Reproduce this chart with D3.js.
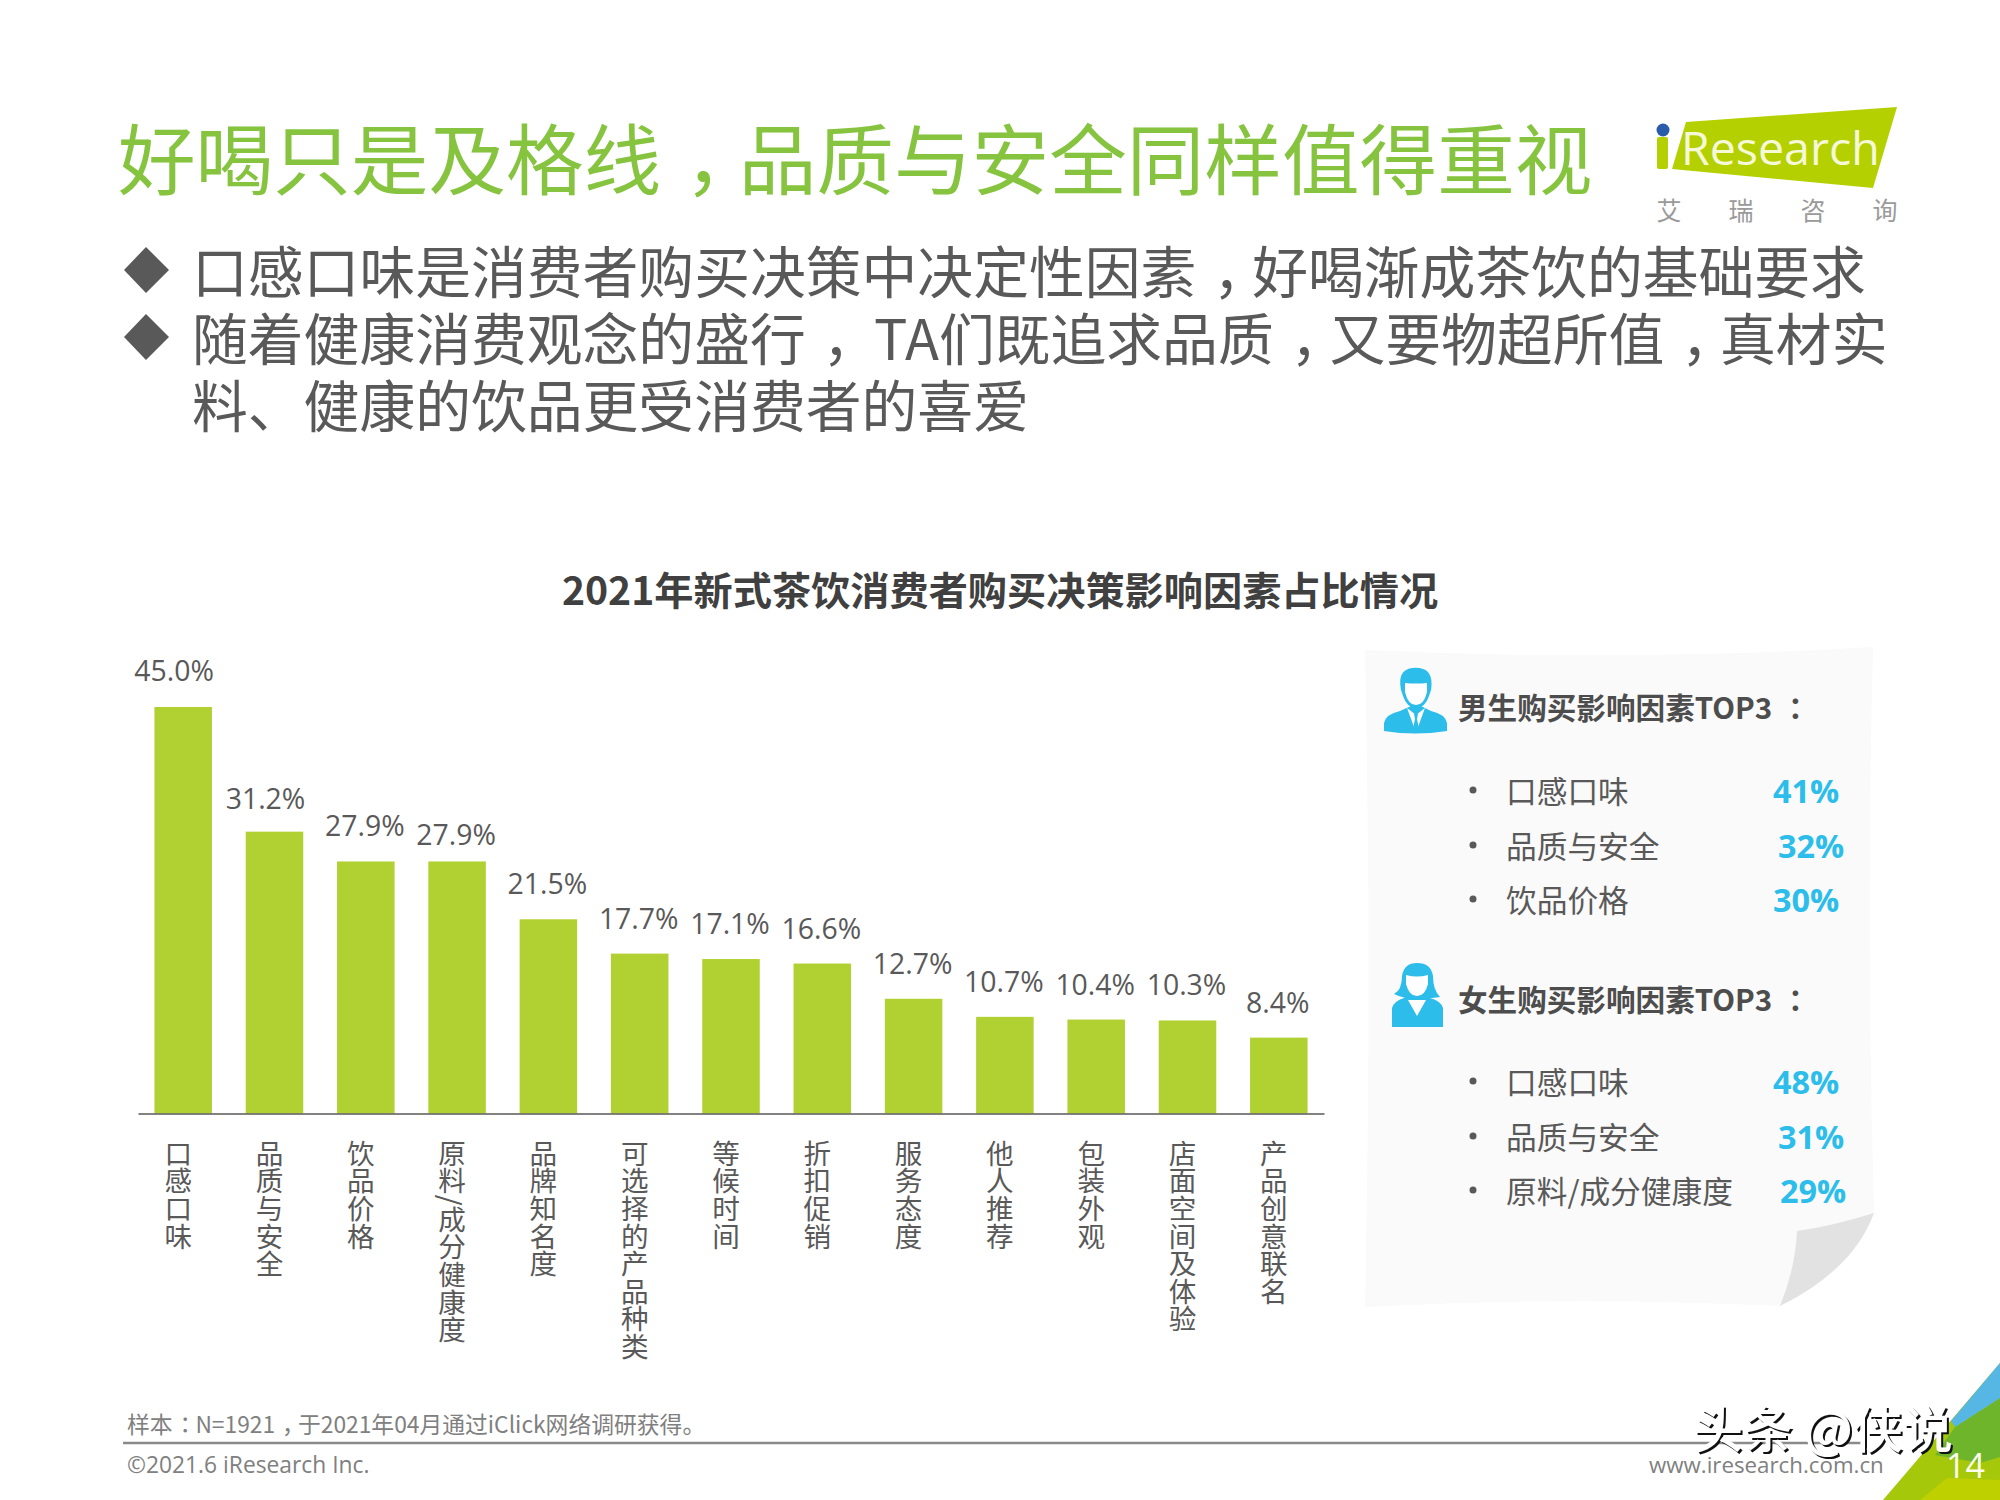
<!DOCTYPE html>
<html>
<head>
<meta charset="utf-8">
<script src="https://cdn.jsdelivr.net/npm/d3@7/dist/d3.min.js"></script>
<style>
html, body { margin: 0; padding: 0; background: #fff; }
svg { display: block; }
text { font-family: "Open Sans", "Noto Sans CJK SC", sans-serif; }
.cjk { font-family: "Noto Sans CJK SC", "Open Sans", sans-serif; }
</style>
</head>
<body>
<div id="slide"></div>
<script>
var TITLE = '好喝只是及格线，品质与安全同样值得重视';
var BULLET_LINES = [
    '口感口味是消费者购买决策中决定性因素，好喝渐成茶饮的基础要求',
    '随着健康消费观念的盛行， TA们既追求品质，又要物超所值，真材实',
    '料、健康的饮品更受消费者的喜爱'
];
var CHART_TITLE = '2021年新式茶饮消费者购买决策影响因素占比情况';
var CATEGORY = ['口感口味', '品质与安全', '饮品价格', '原料/成分健康度', '品牌知名度', '可选择的产品种类', '等候时间', '折扣促销', '服务态度', '他人推荐', '包装外观', '店面空间及体验', '产品创意联名'];
var SHARE = [45.0, 31.2, 27.9, 27.9, 21.5, 17.7, 17.1, 16.6, 12.7, 10.7, 10.4, 10.3, 8.4];
var MALE_FACTORS = ['口感口味', '品质与安全', '饮品价格'];
var MALE_SHARE = [41, 32, 30];
var FEMALE_FACTORS = ['口感口味', '品质与安全', '原料/成分健康度'];
var FEMALE_SHARE = [48, 31, 29];
var SOURCE_NOTE = '样本：N=1921，于2021年04月通过iClick网络调研获得。';

var GREEN = '#b1d132';
var TEXT_DARK = '#595959';
var BLUE = '#2cbdea';

var svg = d3.select('#slide').append('svg')
    .attr('width', 2000)
    .attr('height', 1500);

function addText(str, x, y, size, fill, weight, cls) {
    var t = svg.append('text')
        .attr('class', cls || 'cjk')
        .attr('x', x)
        .attr('y', y)
        .attr('dominant-baseline', 'central')
        .attr('font-size', size)
        .attr('font-weight', weight || 400)
        .attr('fill', fill);
    // the original's full-width comma and colon sit in the middle of the cell
    var after = false;
    str.split(/([，：])/).forEach(function (part) {
        if (part === '') return;
        var punct = part === '，' || part === '：';
        var lift = part === '：' ? '-0.04em' : '0em';
        var span = t.append('tspan').text(part);
        if (punct) {
            span.attr('dx', '0.3em').attr('dy', lift);
            after = lift;
        } else if (after) {
            span.attr('dx', '-0.3em').attr('dy', after === '-0.04em' ? '0.04em' : '0em');
            after = false;
        }
    });
    return t;
}

function drawHeader() {
    addText(TITLE, 118, 155, 77.6, '#86c440', 400);

    // logo
    svg.append('polygon')
        .attr('points', '1686,122 1897,107 1873,188 1672,169')
        .attr('fill', '#b5d000');
    svg.append('rect').attr('x', 1657).attr('y', 137).attr('width', 11).attr('height', 32).attr('rx', 2).attr('fill', '#b5d000');
    svg.append('circle').attr('cx', 1663).attr('cy', 130).attr('r', 6.5).attr('fill', '#2a5caa');
    svg.append('text')
        .attr('x', 1681).attr('y', 165)
        .attr('font-size', 46.5)
        .attr('fill', '#f6f9d8')
        .text('Research');
    var logoChars = ['艾', '瑞', '咨', '询'];
    svg.selectAll('.logo-char')
        .data(logoChars)
        .enter()
        .append('text')
        .attr('class', 'cjk logo-char')
        .attr('x', (d, i) => 1669 + i * 72)
        .attr('y', 209)
        .attr('text-anchor', 'middle')
        .attr('dominant-baseline', 'central')
        .attr('font-size', 25)
        .attr('fill', '#9a9a9a')
        .text(d => d);

    // bullets
    var lineY = [268, 335, 402];
    BULLET_LINES.forEach(function (line, i) {
        addText(line, 192, lineY[i], 55.8, TEXT_DARK, 400);
    });
    [270, 337].forEach(function (cy) {
        svg.append('polygon')
            .attr('points', [[124, cy], [146, cy - 23], [169, cy], [146, cy + 23]].join(' '))
            .attr('fill', TEXT_DARK);
    });
}

function drawBarChart() {
    addText(CHART_TITLE, 1000, 588, 39.2, '#404040', 700, 'cjk').attr('text-anchor', 'middle');

    var x = d3.scaleBand()
        .domain(CATEGORY)
        .range([138, 1324])
        .paddingInner(0.37)
        .paddingOuter(0.18);
    var y = d3.scaleLinear()
        .domain([0, 45])
        .range([1113.5, 707]);

    svg.selectAll('.bar')
        .data(CATEGORY)
        .enter()
        .append('rect')
        .attr('class', 'bar')
        .attr('x', d => x(d))
        .attr('y', (d, i) => y(SHARE[i]))
        .attr('width', x.bandwidth())
        .attr('height', (d, i) => y(0) - y(SHARE[i]))
        .attr('fill', GREEN);

    var axis = svg.append('g')
        .attr('transform', 'translate(0,' + y(0) + ')')
        .call(d3.axisBottom(x).tickSize(0).tickSizeOuter(0));
    axis.select('.domain').attr('stroke', '#595959').attr('stroke-width', 1.5);
    axis.selectAll('text')
        .attr('class', 'cjk')
        .attr('x', -5)
        .attr('y', 26)
        .attr('dy', 0)
        .attr('font-size', 27.6)
        .attr('fill', TEXT_DARK)
        .attr('text-anchor', 'start')
        .style('writing-mode', 'vertical-rl');

    // a few labels sit off-centre in the original
    var nudge = { 0: [-8, -1], 1: [-8, 2], 3: [0, 9] };
    svg.selectAll('.value')
        .data(SHARE)
        .enter()
        .append('text')
        .attr('class', 'value')
        .attr('x', (d, i) => x(CATEGORY[i]) + x.bandwidth() / 2 - 1 + (nudge[i] ? nudge[i][0] : 0))
        .attr('y', (d, i) => y(d) - 36 + (nudge[i] ? nudge[i][1] : 0))
        .attr('text-anchor', 'middle')
        .attr('dominant-baseline', 'central')
        .attr('font-size', 28.4)
        .attr('fill', TEXT_DARK)
        .text(d => d.toFixed(1) + '%');
}

function drawTopList(head, names, values, headY, rowY, pctX) {
    addText(head, 1458, headY, 29.6, '#4d4d4d', 700);
    names.forEach(function (name, i) {
        svg.append('circle').attr('cx', 1473).attr('cy', rowY[i]).attr('r', 3.5).attr('fill', TEXT_DARK);
        addText(name, 1506, rowY[i] - 1, 30.7, TEXT_DARK, 400);
        svg.append('text')
            .attr('x', pctX[i])
            .attr('y', rowY[i])
            .attr('dominant-baseline', 'central')
            .attr('font-size', 32.4)
            .attr('font-weight', 700)
            .attr('fill', BLUE)
            .text(values[i] + '%');
    });
}

function drawPanel() {
    svg.append('path')
        .attr('d', 'M1365,650 Q1620,662 1873,647 Q1866,930 1874,1213 Q1853,1270 1780,1306 Q1570,1296 1365,1307 Q1372,980 1365,650 Z')
        .attr('fill', '#fafafa');
    svg.append('path')
        .attr('d', 'M1874,1213 Q1853,1270 1780,1306 Q1795,1270 1797,1231 Q1833,1226 1874,1213 Z')
        .attr('fill', '#e2e2e2');

    // male icon
    svg.append('path')
        .attr('d', 'M1384,731 L1384,723 Q1386,714 1400,711 L1411,706 L1421,706 L1431,711 Q1445,714 1447,723 L1447,731 Q1415,736 1384,731 Z')
        .attr('fill', BLUE);
    svg.append('path').attr('d', 'M1407,708 L1416,715 L1425,708 L1418,727 L1414,727 Z').attr('fill', '#fff');
    svg.append('path').attr('d', 'M1414,714 L1418,714 L1417,719 L1419,729 L1413,729 L1415,719 Z').attr('fill', BLUE);
    svg.append('path')
        .attr('d', 'M1401,690 Q1397,670 1412,668 Q1435,666 1431,690 L1429,696 Q1425,708 1416,708 Q1407,708 1403,696 Z')
        .attr('fill', BLUE);
    svg.append('path')
        .attr('d', 'M1405,683 Q1416,684 1427,683 L1427,692 Q1424,705 1416,705 Q1408,705 1405,692 Z')
        .attr('fill', '#fff');

    // female icon
    svg.append('path')
        .attr('d', 'M1392,1027 L1392,1008 Q1394,1001 1404,998 L1410,994 L1424,994 L1430,998 Q1441,1001 1443,1008 L1443,1027 Z')
        .attr('fill', BLUE);
    svg.append('path')
        .attr('d', 'M1394,994 Q1402,990 1402,976 Q1404,963 1417,963 Q1431,963 1433,976 Q1433,990 1440,997 Q1428,999 1417,999 Q1404,999 1394,994 Z')
        .attr('fill', BLUE);
    svg.append('path').attr('d', 'M1406,975 Q1417,978 1428,975 L1428,984 Q1425,996 1417,996 Q1409,996 1406,984 Z').attr('fill', '#fff');
    svg.append('path').attr('d', 'M1408,1000 L1426,1000 L1417,1016 Z').attr('fill', '#fff');

    drawTopList('男生购买影响因素TOP3 ：', MALE_FACTORS, MALE_SHARE, 706, [790, 845, 899], [1773, 1778, 1773]);
    drawTopList('女生购买影响因素TOP3 ：', FEMALE_FACTORS, FEMALE_SHARE, 998, [1081, 1136, 1190], [1773, 1778, 1780]);
}

function drawFooter() {
    addText(SOURCE_NOTE, 127, 1423, 22.8, '#808080', 400);
    svg.append('line')
        .attr('x1', 123).attr('x2', 1866)
        .attr('y1', 1443).attr('y2', 1443)
        .attr('stroke', '#8a8a8a')
        .attr('stroke-width', 2.5);
    svg.append('text')
        .attr('x', 127).attr('y', 1464)
        .attr('dominant-baseline', 'central')
        .attr('font-size', 22.8)
        .attr('fill', '#808080')
        .text('©2021.6 iResearch Inc.');
    svg.append('text')
        .attr('x', 1649).attr('y', 1473)
        .attr('font-size', 22.3)
        .attr('fill', '#808080')
        .text('www.iresearch.com.cn');

    // corner triangle
    svg.append('polygon').attr('points', '2000,1363 1883,1500 2000,1500').attr('fill', '#a5c90a');
    svg.append('polygon').attr('points', '1920,1500 1947,1478 2000,1480 2000,1500').attr('fill', '#bfd000');
    svg.append('polygon').attr('points', '2000,1398 1955,1427 1935,1455 1980,1463 2000,1457 2000,1398').attr('fill', '#6eb52c');
    svg.append('polygon').attr('points', '2000,1363 1951,1421 1955,1427 2000,1398').attr('fill', '#57b7e4');
    svg.append('text')
        .attr('x', 1946).attr('y', 1478)
        .attr('font-size', 34)
        .attr('fill', '#fdfdec')
        .text('14');

    // platform watermark, embossed look
    svg.append('text')
        .attr('class', 'cjk')
        .attr('x', 1693).attr('y', 1448)
        .attr('font-size', 50)
        .attr('font-weight', 500)
        .attr('fill', '#fff')
        .style('filter', 'drop-shadow(2px 2px 0 #111)')
        .text('头条 @侠说');
}

drawHeader();
drawBarChart();
drawPanel();
drawFooter();
</script>
</body>
</html>
